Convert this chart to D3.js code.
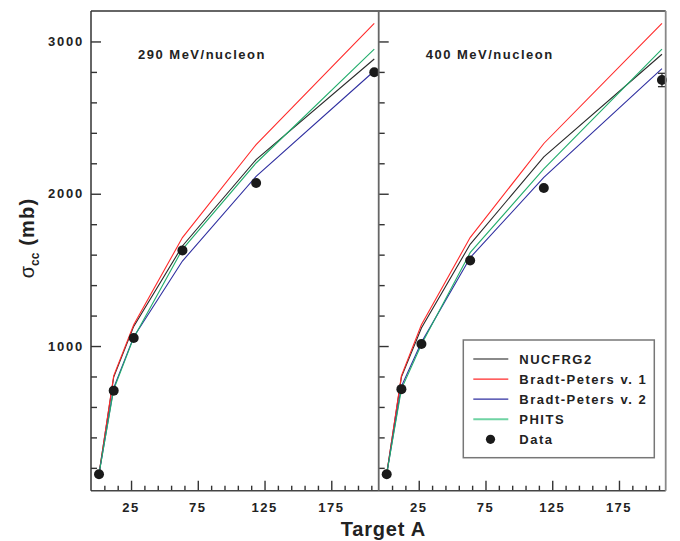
<!DOCTYPE html>
<html>
<head>
<meta charset="utf-8">
<script src="https://cdn.jsdelivr.net/npm/d3@7"></script>
<style>
  html, body { margin: 0; padding: 0; background: #fff; }
  svg { display: block; font-family: "Liberation Sans", Arial, sans-serif; }
</style>
</head>
<body>
<svg id="chart" width="680" height="541"></svg>
<script>
// Target mass numbers: H, C, Al, Cu, Sn, Pb
const targetA = [1, 12, 27, 63.5, 118.7, 207.2];

// Charge-changing cross sections (mb), 290 MeV/nucleon
const nucfrg2_290 = [160, 796, 1129, 1657, 2224, 2885];
const bp1_290     = [160, 804, 1140, 1712, 2323, 3119];
const bp2_290     = [160, 725, 1060, 1558, 2114, 2806];
const phits_290   = [160, 715, 1055, 1635, 2202, 2949];
const data_290    = [158, 707, 1053, 1628, 2071, 2798];
const err_290     = [0, 0, 0, 0, 0, 0];

// Charge-changing cross sections (mb), 400 MeV/nucleon
const nucfrg2_400 = [160, 796, 1118, 1668, 2242, 2916];
const bp1_400     = [160, 804, 1140, 1712, 2330, 3119];
const bp2_400     = [160, 735, 1024, 1580, 2107, 2822];
const phits_400   = [160, 717, 1010, 1613, 2163, 2949];
const data_400    = [158, 717, 1013, 1562, 2038, 2747];
const err_400     = [0, 0, 0, 0, 0, 44];

const xTickLabels = [25, 75, 125, 175];
const yTickLabels = [1000, 2000, 3000];
const seriesNames = ["NUCFRG2", "Bradt-Peters v. 1", "Bradt-Peters v. 2", "PHITS"];
const seriesColors = ["#2a2a2a", "#ff2a2a", "#2f2fa0", "#22ad6c"];
const legendColors = ["#8a8a8a", "#ff2a2a", "#2f2fa0", "#6fd3a3"];
const panelTitles = ["290 MeV/nucleon", "400 MeV/nucleon"];

const panels = [
  { title: panelTitles[0], models: [nucfrg2_290, bp1_290, bp2_290, phits_290], data: data_290, err: err_290 },
  { title: panelTitles[1], models: [nucfrg2_400, bp1_400, bp2_400, phits_400], data: data_400, err: err_400 }
];

const svg = d3.select("#chart");
const plotTop = 11, plotBottom = 490.7;
const panelLeft = [91, 378.7];
const panelW = 287;

const y = d3.scaleLinear().domain([50, 3200]).range([plotBottom, plotTop]);
const axisColor = "#333";

panels.forEach((p, i) => {
  const x0 = panelLeft[i];
  const x = d3.scaleLinear().domain([-5, 210]).range([x0, x0 + panelW]);
  const g = svg.append("g");

  // model curves
  p.models.forEach((vals, k) => {
    const line = d3.line().x((d, j) => x(targetA[j])).y(d => y(d));
    g.append("path")
      .datum(vals)
      .attr("d", line)
      .attr("fill", "none")
      .attr("stroke", seriesColors[k])
      .attr("stroke-width", 1.1);
  });

  // measured points with error bars
  p.data.forEach((v, j) => {
    if (p.err[j] > 0) {
      const cx = x(targetA[j]);
      g.append("line").attr("x1", cx).attr("x2", cx)
        .attr("y1", y(v - p.err[j])).attr("y2", y(v + p.err[j]))
        .attr("stroke", "#222").attr("stroke-width", 1.2);
      [v - p.err[j], v + p.err[j]].forEach(e => {
        g.append("line").attr("x1", cx - 4).attr("x2", cx + 4)
          .attr("y1", y(e)).attr("y2", y(e))
          .attr("stroke", "#222").attr("stroke-width", 1.2);
      });
    }
  });
  g.selectAll("circle.pt").data(p.data).enter().append("circle")
    .attr("class", "pt")
    .attr("cx", (d, j) => x(targetA[j]))
    .attr("cy", d => y(d))
    .attr("r", 5)
    .attr("fill", "#1a1a1a");

  // x ticks (inward)
  const minorX = d3.range(5, 210, 10).filter(v => !xTickLabels.includes(v));
  const xAxisMinor = d3.axisTop(x).tickValues(minorX).tickSize(5).tickFormat("");
  const xAxisMajor = d3.axisTop(x).tickValues(xTickLabels).tickSize(10).tickFormat("");
  [xAxisMinor, xAxisMajor].forEach(ax => {
    const a = g.append("g").attr("transform", `translate(0,${plotBottom})`).call(ax);
    a.select(".domain").remove();
    a.selectAll("line").attr("stroke", axisColor).attr("stroke-width", 1.4);
  });
  g.selectAll("text.xl").data(xTickLabels).enter().append("text")
    .attr("class", "xl")
    .attr("x", d => x(d)).attr("y", plotBottom + 21)
    .attr("text-anchor", "middle")
    .attr("font-size", 13).attr("font-weight", "bold")
    .attr("letter-spacing", 1.5)
    .attr("fill", "#222")
    .text(d => d);

  // y ticks (inward)
  const minorY = d3.range(200, 3200, 200).filter(v => !yTickLabels.includes(v));
  const yAxisMinor = d3.axisRight(y).tickValues(minorY).tickSize(6).tickFormat("");
  const yAxisMajor = d3.axisRight(y).tickValues(yTickLabels).tickSize(10).tickFormat("");
  [yAxisMinor, yAxisMajor].forEach(ax => {
    const a = g.append("g").attr("transform", `translate(${x0},0)`).call(ax);
    a.select(".domain").remove();
    a.selectAll("line").attr("stroke", axisColor).attr("stroke-width", 1.4);
  });
  if (i === 0) {
    g.selectAll("text.yl").data(yTickLabels).enter().append("text")
      .attr("class", "yl")
      .attr("x", x0 - 7).attr("y", d => y(d) + 4.5)
      .attr("text-anchor", "end")
      .attr("font-size", 13).attr("font-weight", "bold")
      .attr("letter-spacing", 1.8)
      .attr("fill", "#222")
      .text(d => d);
  }

  // panel title
  g.append("text")
    .attr("x", x0 + 47).attr("y", 59)
    .attr("font-size", 13).attr("font-weight", "bold")
    .attr("letter-spacing", 1.5)
    .attr("fill", "#222")
    .text(p.title);
});

// frame
const frameL = panelLeft[0], frameM = panelLeft[1], frameR = panelLeft[1] + panelW;
svg.append("line").attr("x1", frameL).attr("x2", frameR).attr("y1", plotTop).attr("y2", plotTop)
  .attr("stroke", "#333").attr("stroke-width", 1.5);
svg.append("line").attr("x1", frameL).attr("x2", frameR).attr("y1", plotBottom).attr("y2", plotBottom)
  .attr("stroke", "#444").attr("stroke-width", 1.5);
svg.append("line").attr("x1", frameL).attr("x2", frameL).attr("y1", plotTop).attr("y2", plotBottom)
  .attr("stroke", "#333").attr("stroke-width", 1.5);
svg.append("line").attr("x1", frameM).attr("x2", frameM).attr("y1", plotTop).attr("y2", plotBottom)
  .attr("stroke", "#666").attr("stroke-width", 1.8);
svg.append("line").attr("x1", frameR).attr("x2", frameR).attr("y1", plotTop).attr("y2", plotBottom)
  .attr("stroke", "#888").attr("stroke-width", 1.8);

// axis titles
svg.append("text")
  .attr("x", (frameL + frameR) / 2 + 5).attr("y", 536)
  .attr("text-anchor", "middle")
  .attr("font-size", 20).attr("font-weight", "bold")
  .attr("letter-spacing", 0.8)
  .attr("fill", "#222")
  .text("Target A");

const yTitle = svg.append("text")
  .attr("transform", "translate(34,238) rotate(-90)")
  .attr("text-anchor", "middle")
  .attr("fill", "#222");
yTitle.append("tspan").attr("font-size", 20).text("σ");
yTitle.append("tspan").attr("font-size", 12).attr("font-weight", "bold").attr("dy", 5).text("cc");
yTitle.append("tspan").attr("font-size", 20).attr("font-weight", "bold").attr("dy", -5)
  .attr("letter-spacing", 1.2).text(" (mb)");

// legend
const lg = svg.append("g");
lg.append("rect").attr("x", 463.3).attr("y", 340).attr("width", 191).attr("height", 117.7)
  .attr("fill", "#fff").attr("stroke", "#777").attr("stroke-width", 1.5);
const legendItems = seriesNames.map((n, k) => ({ name: n, color: legendColors[k], type: "line" }))
  .concat([{ name: "Data", type: "dot" }]);
const rowY = d3.scalePoint().domain(d3.range(legendItems.length)).range([359, 439.3]);
legendItems.forEach((it, k) => {
  const yy = rowY(k);
  if (it.type === "line") {
    lg.append("line").attr("x1", 473.3).attr("x2", 508.3).attr("y1", yy).attr("y2", yy)
      .attr("stroke", it.color).attr("stroke-width", k === 0 || k === 3 ? 1.8 : 1.2);
  } else {
    lg.append("circle").attr("cx", 490.5).attr("cy", yy).attr("r", 4.6).attr("fill", "#1a1a1a");
  }
  lg.append("text").attr("x", 519.3).attr("y", yy + 4.6)
    .attr("font-size", 13).attr("font-weight", "bold")
    .attr("letter-spacing", 1.5)
    .attr("fill", "#222")
    .text(it.name);
});
</script>
</body>
</html>
